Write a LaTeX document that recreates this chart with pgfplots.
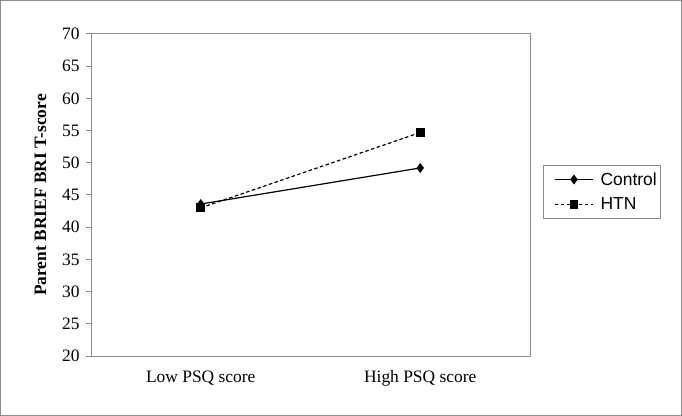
\documentclass[border=0pt]{standalone}
\usepackage{fontspec}
\setmainfont{Liberation Serif}
\setsansfont{Liberation Sans}
\usepackage{pgfplots}
\pgfplotsset{compat=1.18}
\definecolor{framegray}{HTML}{8C8C8C}

\begin{document}
\begin{tikzpicture}
% outer frame of the figure
\draw[framegray, line width=1bp] (0.5bp,0.5bp) rectangle (681.5bp,415.5bp);
\begin{axis}[
  at={(91bp,60bp)}, anchor=south west,
  width=439bp, height=322bp, scale only axis,
  xmin=0.5, xmax=2.5, ymin=20, ymax=70,
  xtick={1,2}, xticklabels={Low PSQ score, High PSQ score},
  ytick={20,25,...,70},
  x tick style={draw=none},
  ytick pos=left, tick align=outside,
  major tick length=5bp,
  y tick style={framegray, line width=1bp},
  axis line style={framegray, line width=1bp},
  tick label style={font=\fontsize{17.5}{20}\selectfont},
  /pgf/number format/assume math mode=true,
  xticklabel style={yshift=-6bp},
  yticklabel style={xshift=-3bp},
  ylabel={\textbf{Parent BRIEF BRI T-score}},
  ylabel style={font=\fontsize{17.5}{20}\selectfont, yshift=9bp},
  legend style={at={(1.0296,0.593)}, anchor=north west,
    draw=framegray, line width=0.8bp, inner xsep=2bp, inner ysep=5bp,
    font=\sffamily\fontsize{17.5}{20}\selectfont,
    row sep=7bp, legend cell align=left},
  legend image code/.code={
    \path (0bp,0bp) (52bp,0bp);
    \draw[#1, mark repeat=2, mark phase=2]
      plot coordinates {(9bp,0bp) (28bp,0bp) (47bp,0bp)};},
]
\addplot[black, line width=1.2bp, mark=diamond*, mark size=4bp,
  mark options={solid}] coordinates {(1,43.6) (2,49.2)};
\addplot[black, line width=1.2bp, dash pattern=on 3.5bp off 2.5bp,
  mark=square*, mark size=3.8bp, mark options={solid}]
  coordinates {(1,43.0) (2,54.7)};
\legend{Control, HTN}
\end{axis}
\end{tikzpicture}
\end{document}
